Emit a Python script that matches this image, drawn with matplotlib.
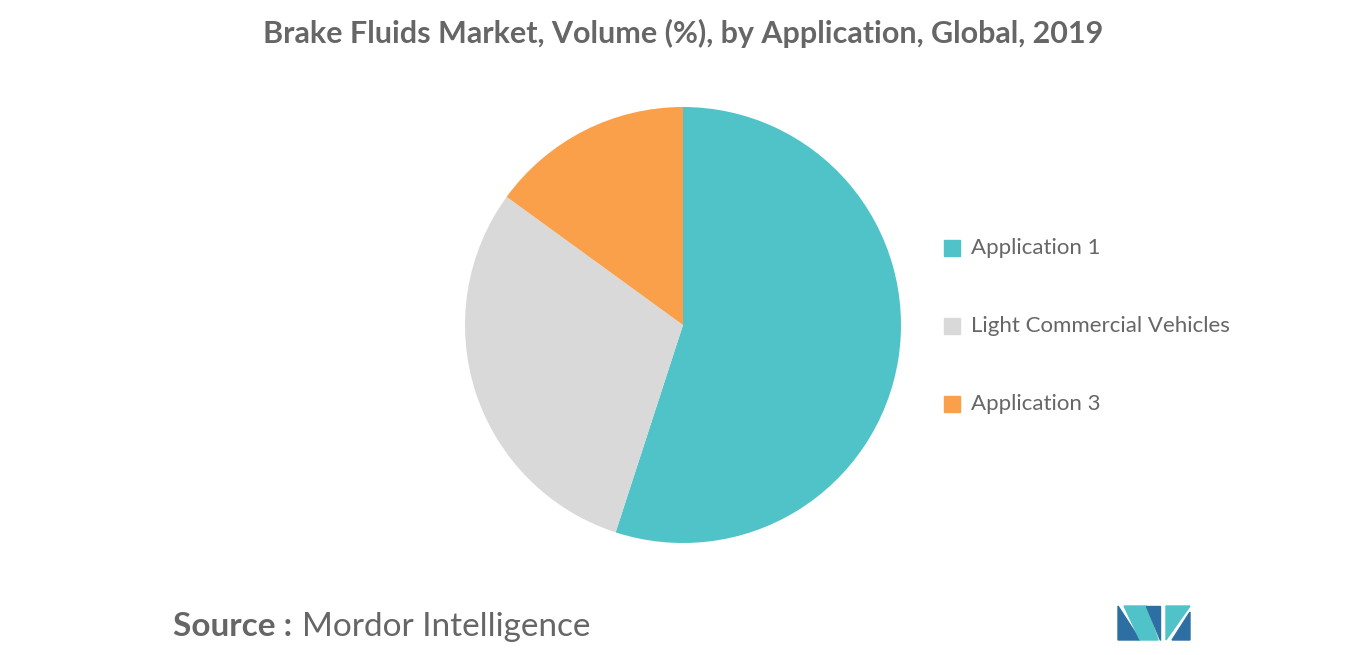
import matplotlib.pyplot as plt
from matplotlib.patches import Polygon

labels = ['Application 1', 'Light Commercial Vehicles', 'Application 3']
shares = [55, 30, 15]
colors = ['#4fc3c8', '#d9d9d9', '#fba04a']

fig = plt.figure(figsize=(13.66, 6.55), dpi=100)
fig.patch.set_facecolor('white')

ax = fig.add_axes([683/1366 - 218/1366, 1 - (325 + 218)/655, 436/1366, 436/655])
ax.pie(shares, colors=colors, startangle=90, counterclock=False,
       wedgeprops=dict(linewidth=0))
ax.set_xlim(-1, 1)
ax.set_ylim(-1, 1)
ax.set_aspect('equal')

fig.text(0.5, 1 - 33/655, 'Brake Fluids Market, Volume (%), by Application, Global, 2019',
         ha='center', va='center', fontsize=22, fontweight='bold', color='#666666',
         family='Lato')

for i, (lab, c) in enumerate(zip(labels, colors)):
    y = 1 - (248 + i * 78) / 655
    fig.patches.append(plt.Rectangle((944/1366, y - 8/655), 16/1366, 16/655,
                                     transform=fig.transFigure, color=c))
    fig.text(971/1366, y, lab, ha='left', va='center', fontsize=16,
             color='#666666', family='Lato')

fig.text(173/1366, 1 - 627/655, 'Source :', ha='left', va='center', fontsize=24,
         fontweight='bold', color='#666666', family='Lato')
fig.text(302/1366, 1 - 627/655, 'Mordor Intelligence', ha='left', va='center',
         fontsize=24, color='#666666', family='Lato')

# logo
def px(pts):
    return [(x / 1366, 1 - y / 655) for x, y in pts]
logo = [
    ([(1118, 640), (1118, 606), (1140, 640)], '#2e6fa3'),
    ([(1124, 606), (1146, 606), (1158, 640), (1140, 640)], '#4fc3c8'),
    ([(1146, 606), (1160, 606), (1160, 640)], '#2e6fa3'),
    ([(1166, 606), (1190, 606), (1166, 640)], '#4fc3c8'),
    ([(1172, 640), (1190, 612), (1190, 640)], '#2e6fa3'),
]
for pts, c in logo:
    fig.patches.append(Polygon(px(pts), closed=True, transform=fig.transFigure,
                               color=c))

fig.savefig('out.png', dpi=100)
